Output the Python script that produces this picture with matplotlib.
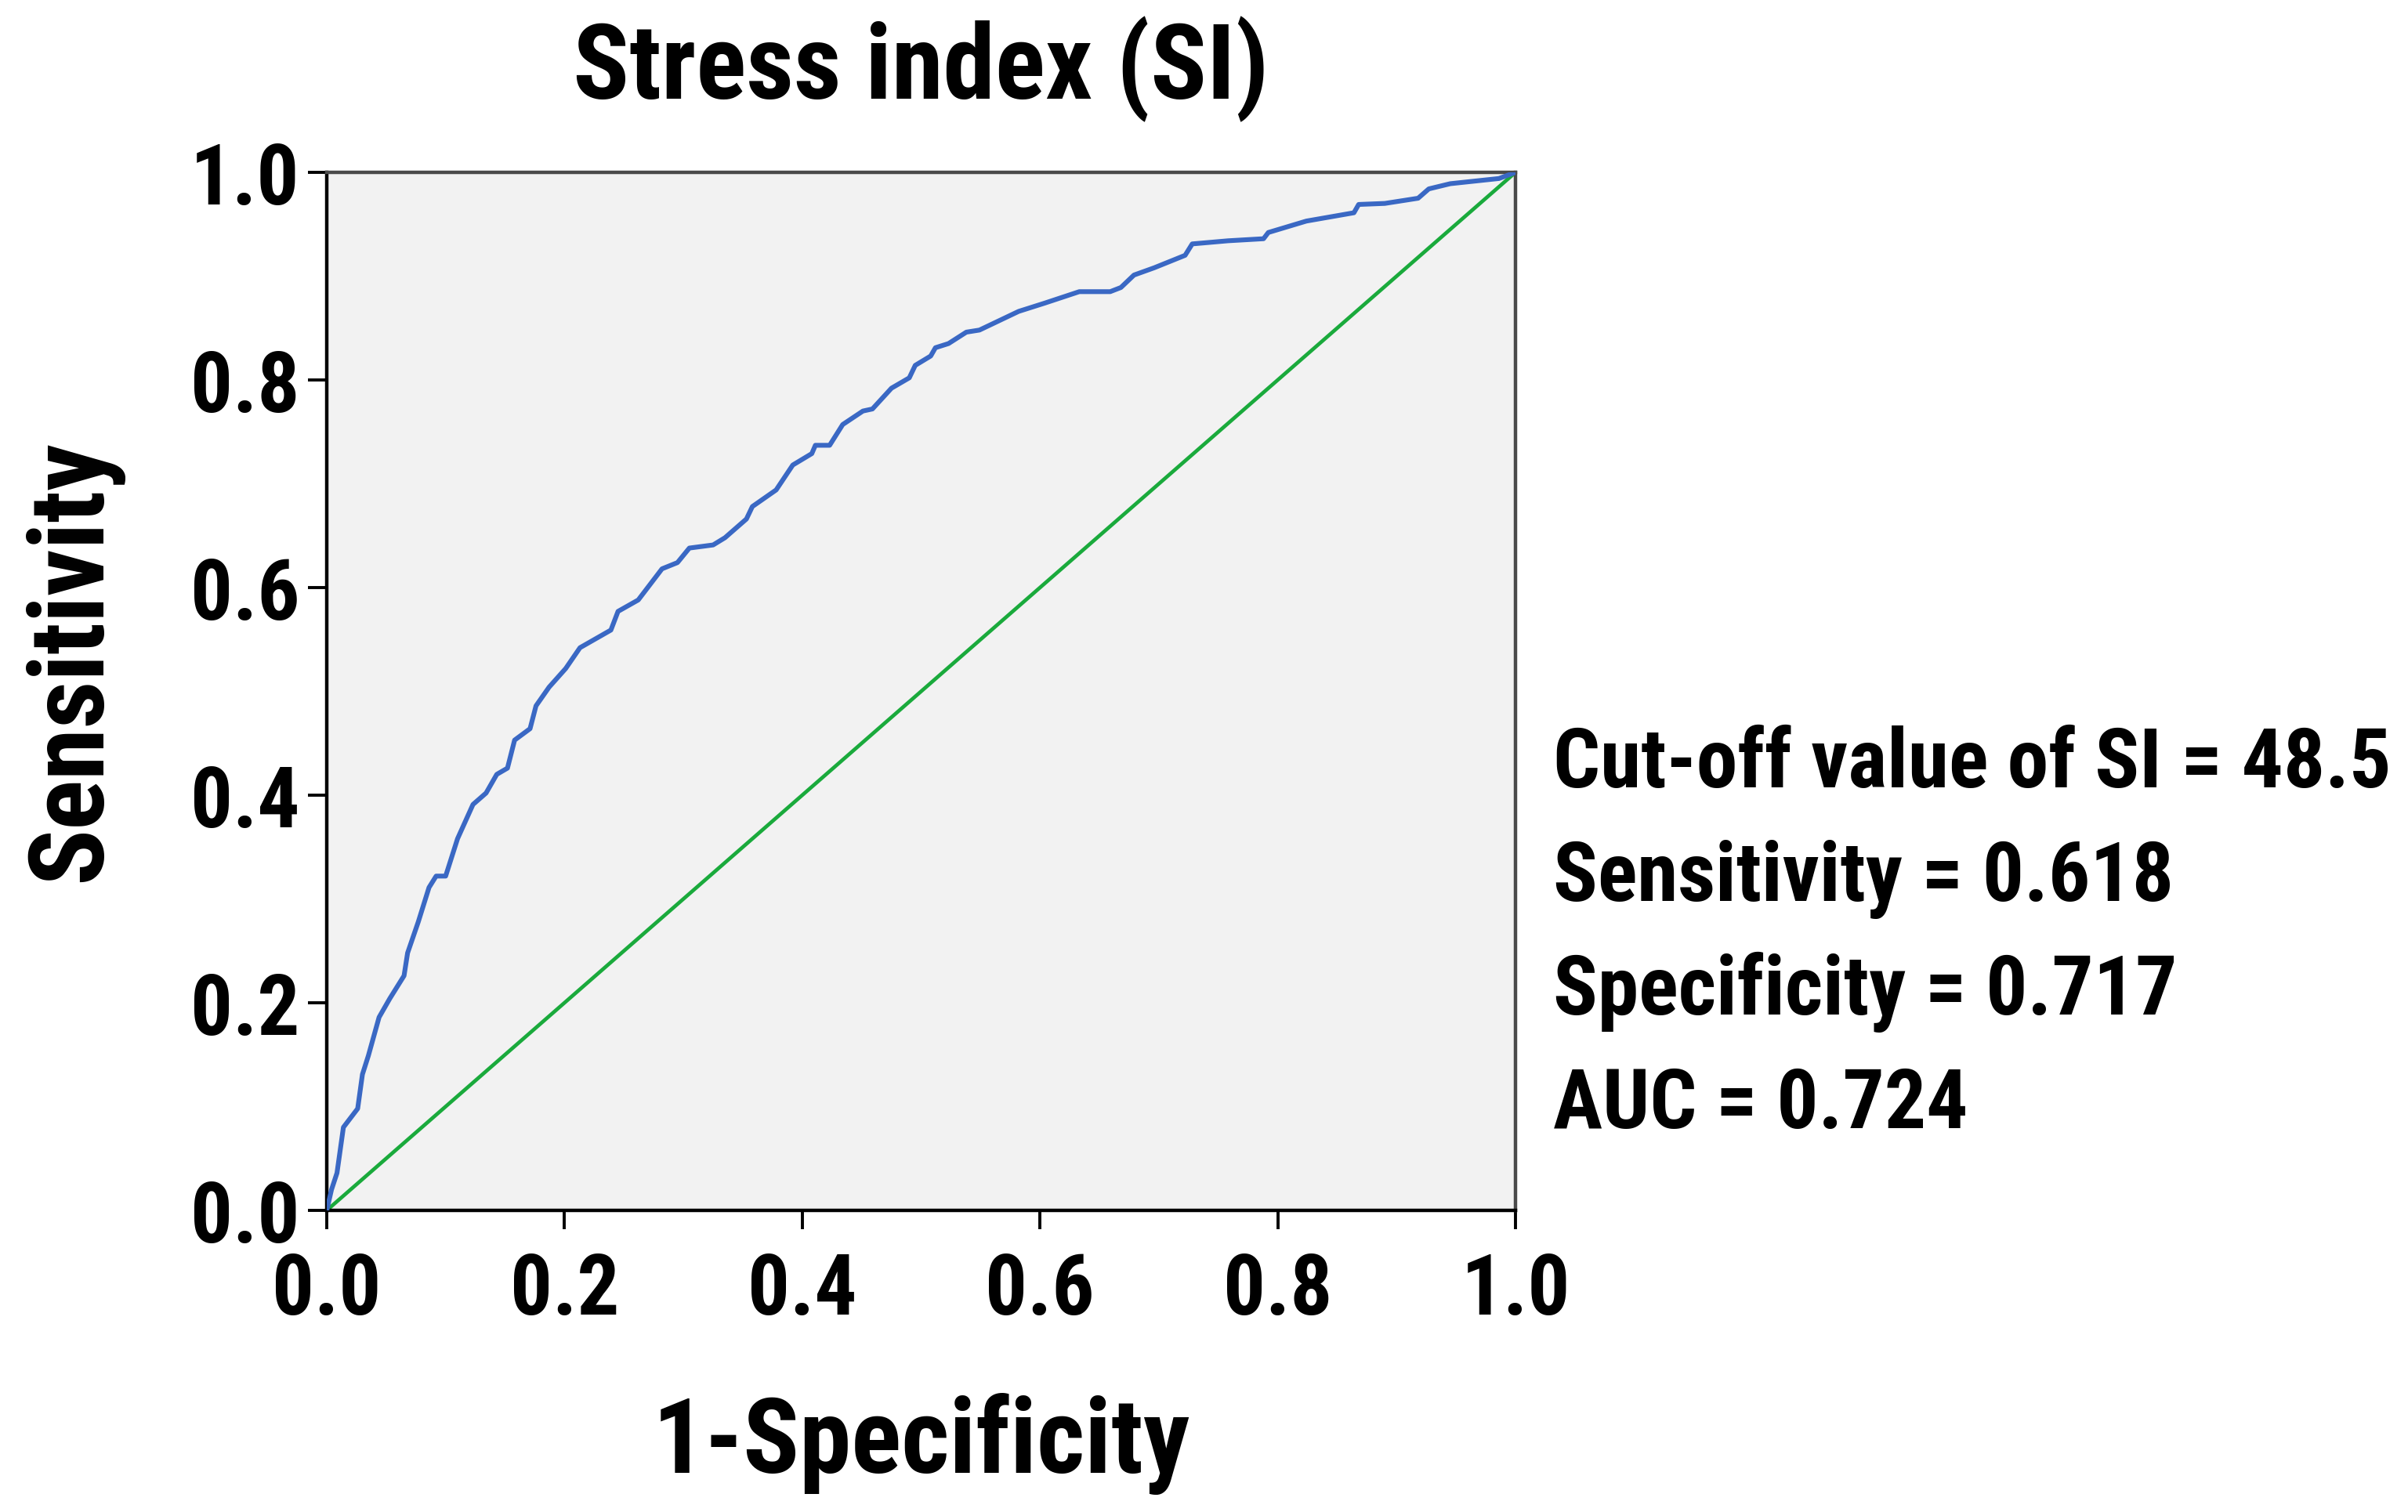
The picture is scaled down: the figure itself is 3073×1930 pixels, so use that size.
import matplotlib
matplotlib.use('Agg')
import matplotlib.pyplot as plt

# 字体: 窄体粗体 (接近 Helvetica Condensed Bold)
plt.rcParams['font.family'] = ['Roboto Condensed', 'DejaVu Sans']
plt.rcParams['font.weight'] = 'bold'

# 数据
fpr = [0, 0.004, 0.0086, 0.014, 0.026, 0.030, 0.035, 0.044, 0.053, 0.065,
       0.068, 0.077, 0.086, 0.092, 0.100, 0.110, 0.123, 0.134, 0.143, 0.152,
       0.158, 0.171, 0.176, 0.187, 0.201, 0.213, 0.239, 0.245, 0.262, 0.282,
       0.295, 0.305, 0.325, 0.335, 0.353, 0.358, 0.378, 0.392, 0.408, 0.411,
       0.423, 0.434, 0.451, 0.459, 0.475, 0.490, 0.495, 0.508, 0.512, 0.523,
       0.538, 0.549, 0.582, 0.604, 0.633, 0.659, 0.668, 0.679, 0.696, 0.722,
       0.728, 0.758, 0.788, 0.792, 0.824, 0.864, 0.868, 0.890, 0.918, 0.927,
       0.945, 0.986, 1.0]
tpr = [0, 0.02, 0.036, 0.08, 0.098, 0.131, 0.149, 0.186, 0.204, 0.226,
       0.248, 0.278, 0.311, 0.322, 0.322, 0.358, 0.391, 0.402, 0.420, 0.426,
       0.453, 0.464, 0.486, 0.504, 0.522, 0.542, 0.559, 0.577, 0.588, 0.618,
       0.624, 0.638, 0.641, 0.648, 0.666, 0.678, 0.694, 0.718, 0.729, 0.737,
       0.737, 0.757, 0.770, 0.772, 0.792, 0.802, 0.814, 0.823, 0.831, 0.835,
       0.846, 0.848, 0.866, 0.874, 0.885, 0.885, 0.889, 0.901, 0.908, 0.920,
       0.931, 0.934, 0.936, 0.942, 0.953, 0.961, 0.969, 0.970, 0.975, 0.984,
       0.989, 0.994, 1.0]
ref_line = [0, 1]
ticks = [0.0, 0.2, 0.4, 0.6, 0.8, 1.0]
tick_labels = ['0.0', '0.2', '0.4', '0.6', '0.8', '1.0']
stats_lines = ['Cut-off value of SI = 48.5',
               'Sensitivity = 0.618',
               'Specificity = 0.717',
               'AUC = 0.724']

fig = plt.figure(figsize=(30.73, 19.31), dpi=100)
ax = fig.add_axes([0.1357, 0.1994, 0.4937, 0.6862])
ax.set_facecolor('#f2f2f2')

ax.plot(ref_line, ref_line, color='#1aaa3c', linewidth=3.4, zorder=2)
ax.plot(fpr, tpr, color='#3a68c4', linewidth=4.4, zorder=3)

ax.set_xlim(0, 1)
ax.set_ylim(0, 1)
ax.set_xticks(ticks)
ax.set_xticklabels(tick_labels)
ax.set_yticks(ticks)
ax.set_yticklabels(tick_labels)
ax.tick_params(axis='both', direction='out', length=17, width=2.8,
               color='black', labelsize=77)
ax.tick_params(axis='x', pad=20)
ax.tick_params(axis='y', pad=8)

for side in ['left', 'bottom']:
    ax.spines[side].set_linewidth(3.2)
    ax.spines[side].set_color('black')
for side in ['top', 'right']:
    ax.spines[side].set_linewidth(3.2)
    ax.spines[side].set_color('#4a4a4a')

ax.set_title('Stress index (SI)', fontsize=96, fontweight='bold', pad=68)
ax.set_xlabel('1-Specificity', fontsize=96, fontweight='bold')
ax.set_ylabel('Sensitivity', fontsize=96, fontweight='bold')
ax.xaxis.set_label_coords(0.5, -0.175)
ax.yaxis.set_label_coords(-0.172, 0.53)

# 统计信息文本
y0 = 1005
for i, line in enumerate(stats_lines):
    fig.text(1982 / 3073, 1 - (y0 + i * 145) / 1931, line,
             fontsize=76, fontweight='bold', ha='left', va='baseline')

fig.savefig('out.png', dpi=100, facecolor='white')
plt.close(fig)
